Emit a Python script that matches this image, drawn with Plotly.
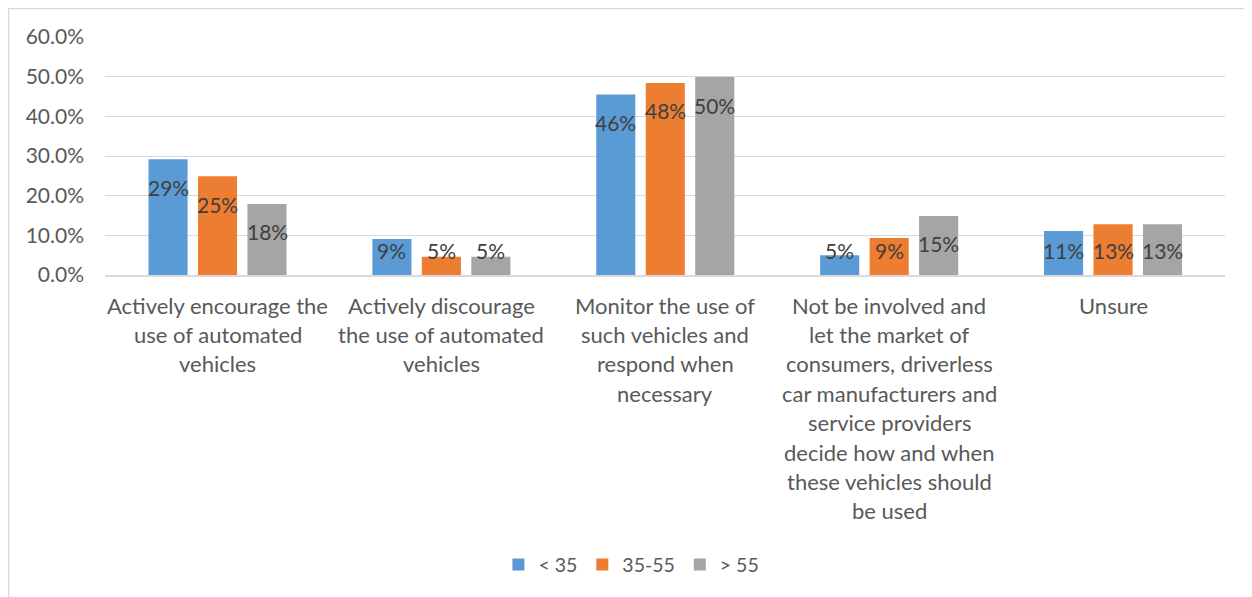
import math
import plotly.graph_objects as go

# Survey answers by age group
categories = [
    "Actively encourage the<br>use of automated<br>vehicles",
    "Actively discourage<br>the use of automated<br>vehicles",
    "Monitor the use of<br>such vehicles and<br>respond when<br>necessary",
    "Not be involved and<br>let the market of<br>consumers, driverless<br>car manufacturers and<br>service providers<br>decide how and when<br>these vehicles should<br>be used",
    "Unsure",
]
under_35 = [0.292, 0.091, 0.455, 0.050, 0.111]
age_35_55 = [0.249, 0.046, 0.484, 0.093, 0.128]
over_55 = [0.179, 0.046, 0.499, 0.149, 0.128]
series_names = ["< 35", "35-55", "> 55"]
colors = ["#5B9BD5", "#ED7D31", "#A5A5A5"]

font = "Lato, 'Open Sans', sans-serif"

fig = go.Figure()
for name, vals, col in zip(series_names, [under_35, age_35_55, over_55], colors):
    fig.add_trace(go.Bar(x=categories, y=vals, name=name, marker_color=col,
                         marker_line_width=0, hoverinfo="skip"))

annotations = []

# data labels near the top of each bar (Excel "inside end"), kept off the axis for short bars
offsets = [-1, 0, 1]
for k, vals in enumerate([under_35, age_35_55, over_55]):
    for i, v in enumerate(vals):
        annotations.append(dict(
            x=i, y=max(v - 0.0705, 0.063), xref="x", yref="y",
            xshift=offsets[k] * 49.5, text=f"{math.floor(v * 100 + 0.5)}%",
            showarrow=False, yanchor="middle",
            font=dict(family=font, size=21, color="#404040")))

# category labels, one annotation per line so the line spacing matches Excel's
for i, cat in enumerate(categories):
    for j, line in enumerate(cat.split("<br>")):
        annotations.append(dict(
            x=i, y=0, xref="x", yref="y", yshift=-(30 + 29.4 * j),
            text=line, showarrow=False, yanchor="middle",
            font=dict(family=font, size=22, color="#595959")))

# page body has an 8px margin, so the figure is shrunk by that much
fig.update_layout(
    width=1244, height=589,
    margin=dict(l=97, r=27, t=29, b=322),
    paper_bgcolor="white", plot_bgcolor="white",
    barmode="group", bargap=0.337, bargroupgap=0.21,
    font=dict(family=font, size=19, color="#595959"),
    showlegend=True,
    legend=dict(orientation="h", x=0.47, xanchor="center", y=-1.218, yanchor="middle",
                font=dict(size=19.5, color="#595959"), itemwidth=30, traceorder="normal"),
    annotations=annotations,
    shapes=[dict(type="rect", xref="paper", yref="paper",
                 x0=-0.0862, x1=1.1, y0=-1.6, y1=1.12,
                 line=dict(color="#D9D9D9", width=1.5))],
)
fig.update_yaxes(range=[0, 0.6], dtick=0.1, tickformat=".1%", showgrid=True,
                 gridcolor="#D9D9D9", gridwidth=1, zeroline=False, showline=False,
                 ticks="", ticklabelstandoff=20, tickfont=dict(size=21, color="#595959"))
fig.update_xaxes(showline=True, linecolor="#D9D9D9", linewidth=1.5, ticks="",
                 showticklabels=False)

fig.write_html("out.html")
